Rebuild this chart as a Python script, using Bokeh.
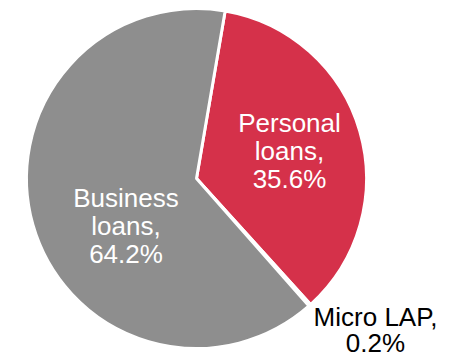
import math
from bokeh.plotting import figure
from bokeh.models import Range1d, ColumnDataSource
from bokeh.core.properties import value
from bokeh.embed import file_html
from bokeh.resources import INLINE

categories = ["Personal loans", "Micro LAP", "Business loans"]
shares = [35.6, 0.2, 64.2]
colors = ["#D5314A", "#D5314A", "#8E8E8E"]
label_text = ["Personal\nloans,\n35.6%", "Micro LAP,\n0.2%", "Business\nloans,\n64.2%"]
label_colors = ["white", "black", "white"]

W, H = 457, 358
p = figure(width=W, height=H, output_backend="svg", toolbar_location=None,
           x_range=Range1d(0, W), y_range=Range1d(0, H), min_border=0)
p.axis.visible = False
p.grid.visible = False
p.outline_line_color = None
p.background_fill_color = "white"
p.border_fill_color = "white"

cx, cy, r = 196, 180, 170
start_deg = 80.3
total = sum(shares)
starts, ends = [], []
cum = 0.0
for s in shares:
    a0 = start_deg - cum / total * 360
    cum += s
    a1 = start_deg - cum / total * 360
    starts.append(math.radians(a1))
    ends.append(math.radians(a0))

src = ColumnDataSource(dict(start=starts, end=ends, color=colors, cat=categories))
p.wedge(x=cx, y=cy, radius=r, start_angle="start", end_angle="end",
        fill_color="color", line_color="white", line_width=3, source=src)

# label anchors: first-line offset from pie center (px), line step
offsets = [(93, 56, 28), (179, -138, 26), (-70.5, -19, 28)]
xs, ys, ts, cs = [], [], [], []
for txt, col, (dx, dy, step) in zip(label_text, label_colors, offsets):
    for i, line in enumerate(txt.split("\n")):
        xs.append(cx + dx)
        ys.append(cy + dy - i * step)
        ts.append(line)
        cs.append(col)

p.text(x=xs, y=ys, text=ts, text_color=cs, text_align="center",
       text_baseline="alphabetic", text_font=value("Liberation Sans"),
       text_font_size="26px")

open("out.html", "w").write(file_html(p, INLINE))
